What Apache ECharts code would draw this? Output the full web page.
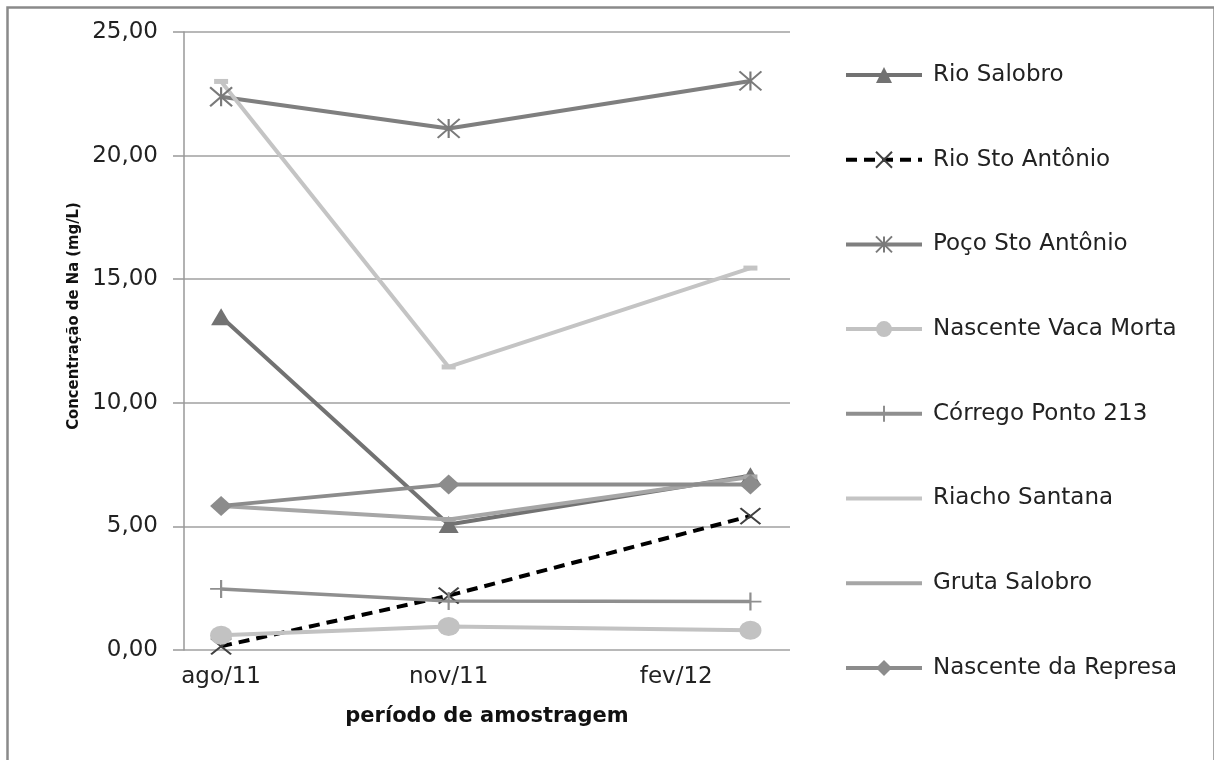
<!DOCTYPE html>
<html>
<head>
<meta charset="utf-8">
<script src="https://cdn.jsdelivr.net/npm/echarts@6/dist/echarts.min.js"></script>
<style>
html,body{margin:0;padding:0;background:#fff;}
#chart{width:1214px;height:760px;}
</style>
</head>
<body>
<div id="chart"></div>
<script>
// Sampling dates as days after 1 Aug 2011 (Excel date axis)
const sampleDays = [0, 92, 214];
// Tick positions (days after 1 Aug 2011) and labels
const tickDays = [0, 92, 184];
const tickLabels = ['ago/11', 'nov/11', 'fev/12'];

const seriesNames = ['Rio Salobro', 'Rio Sto Antônio', 'Poço Sto Antônio', 'Nascente Vaca Morta',
  'Córrego Ponto 213', 'Riacho Santana', 'Gruta Salobro', 'Nascente da Represa'];

const rioSalobro = [13.48, 5.08, 7.05];
const rioStoAntonio = [0.15, 2.2, 5.42];
const pocoStoAntonio = [22.38, 21.1, 23.02];
const nascenteVacaMorta = [0.6, 0.95, 0.8];
const corregoPonto213 = [2.47, 1.98, 1.96];
const riachoSantana = [23.0, 11.45, 15.45];
const grutaSalobro = [5.83, 5.28, 7.0];
const nascenteRepresa = [5.83, 6.7, 6.7];

function pts(vals) { return vals.map((v, i) => [sampleDays[i], v]); }

const FONT = 'DejaVu Sans';
const X_PATH = 'path://M0,0 L10,10 M10,0 L0,10';
const AST_PATH = 'path://M0,0 L10,10 M10,0 L0,10 M5,0 L5,10';
const PLUS_PATH = 'path://M0,5 L10,5 M5,0 L5,10';

function lineSeries(name, vals, color, symbol, size, extra) {
  return Object.assign({
    name: name,
    type: 'line',
    data: pts(vals),
    symbol: symbol,
    symbolSize: size,
    showSymbol: true,
    color: color,
    lineStyle: { color: color, width: 4 },
    itemStyle: { color: color },
    emphasis: { disabled: true },
    animation: false,
    z: 3
  }, extra || {});
}

const series = [
  lineSeries(seriesNames[0], rioSalobro, '#727272', 'triangle', [20, 17]),
  lineSeries(seriesNames[1], rioStoAntonio, '#000000', X_PATH, [20, 16], {
    lineStyle: { color: '#000000', width: 4, type: [11, 7] },
    itemStyle: { color: 'rgba(0,0,0,0)', borderColor: '#404040', borderWidth: 2 }
  }),
  lineSeries(seriesNames[2], pocoStoAntonio, '#7f7f7f', AST_PATH, [22, 19], {
    itemStyle: { color: 'rgba(0,0,0,0)', borderColor: '#7a7a7a', borderWidth: 2 }
  }),
  lineSeries(seriesNames[3], nascenteVacaMorta, '#c2c2c2', 'circle', [22, 19]),
  lineSeries(seriesNames[4], corregoPonto213, '#8f8f8f', PLUS_PATH, [22, 18], {
    lineStyle: { color: '#8f8f8f', width: 3.5 },
    itemStyle: { color: 'rgba(0,0,0,0)', borderColor: '#8f8f8f', borderWidth: 2 }
  }),
  lineSeries(seriesNames[5], riachoSantana, '#c4c4c4', 'rect', [14, 5]),
  lineSeries(seriesNames[6], grutaSalobro, '#a6a6a6', 'rect', [14, 5]),
  lineSeries(seriesNames[7], nascenteRepresa, '#8c8c8c', 'diamond', [22, 20])
];

const legendData = seriesNames.map(function (n, i) {
  if (i === 5 || i === 6) return { name: n, itemStyle: { opacity: 0 } };
  return { name: n };
});

const chart = echarts.init(document.getElementById('chart'), null, { renderer: 'canvas' });
chart.setOption({
  backgroundColor: '#ffffff',
  animation: false,
  graphic: [{
    type: 'rect',
    left: 5, top: 5,
    shape: { width: 1207, height: 790 },
    style: { fill: 'none', stroke: '#8a8a8a', lineWidth: 2.5 },
    silent: true
  }],
  grid: { left: 184, right: 424, top: 32, bottom: 110 },
  xAxis: {
    type: 'value',
    min: -15,
    max: 230,
    axisLine: { show: false },
    splitLine: { show: false },
    axisTick: { show: false },
    axisLabel: {
      customValues: tickDays,
      formatter: function (v) { const i = tickDays.indexOf(v); return i >= 0 ? tickLabels[i] : ''; },
      fontFamily: FONT, fontSize: 23, color: '#222', margin: 16
    },
    name: 'período de amostragem',
    nameLocation: 'middle',
    nameGap: 56,
    nameTextStyle: { fontFamily: FONT, fontSize: 21, fontWeight: 'bold', color: '#111' }
  },
  yAxis: {
    type: 'value',
    min: 0,
    max: 25,
    interval: 5,
    axisLine: { show: true, onZero: false, lineStyle: { color: '#999', width: 1.5 } },
    axisTick: { show: true, length: 11, lineStyle: { color: '#999', width: 1.5 } },
    splitLine: { show: true, lineStyle: { color: '#a0a0a0', width: 1.5 } },
    axisLabel: {
      formatter: function (v) { return v.toFixed(2).replace('.', ','); },
      fontFamily: FONT, fontSize: 23, color: '#222', margin: 26
    },
    name: 'Concentração de Na (mg/L)',
    nameLocation: 'middle',
    nameGap: 102,
    nameTextStyle: {
      fontFamily: "'DejaVu Sans Condensed', 'Liberation Sans Narrow', 'Liberation Sans', sans-serif",
      fontSize: 16.5, fontWeight: 'bold', color: '#111', padding: [0, 0, 0, 50]
    }
  },
  legend: {
    orient: 'vertical',
    left: 844,
    top: 63,
    padding: 0,
    itemWidth: 76,
    itemHeight: 20,
    itemGap: 60.7,
    data: legendData,
    selectedMode: false,
    lineStyle: { width: 4 },
    textStyle: { fontFamily: FONT, fontSize: 23, color: '#222', lineHeight: 24, padding: [0, 0, 0, 6] }
  },
  series: series
});
</script>
</body>
</html>
